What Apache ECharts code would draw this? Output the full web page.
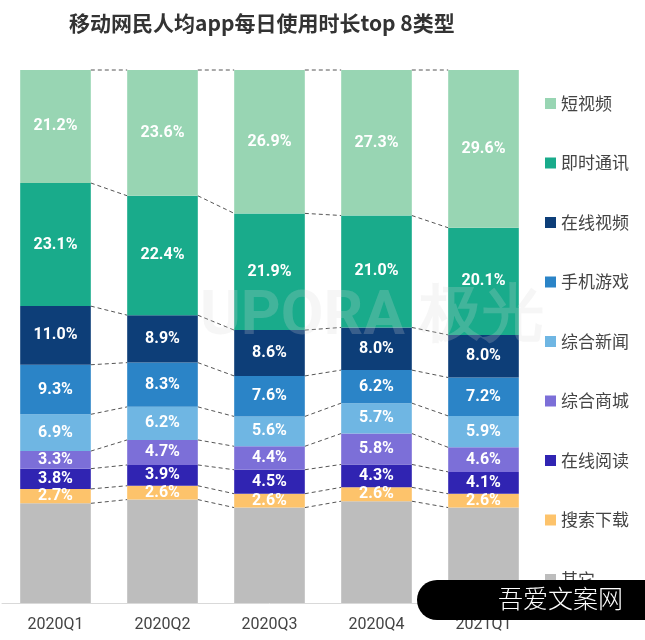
<!DOCTYPE html>
<html><head><meta charset="utf-8">
<script src="https://cdn.jsdelivr.net/npm/echarts@6/dist/echarts.min.js"></script>
<style>html,body{margin:0;padding:0;background:#fff}#c{width:645px;height:640px}</style>
</head><body><div id="c"></div>
<script>
const categories = ['2020Q1','2020Q2','2020Q3','2020Q4','2021Q1'];
const seriesNames = ['其它','搜索下载','在线阅读','综合商城','综合新闻','手机游戏','在线视频','即时通讯','短视频'];
const other    = [18.7, 19.4, 17.9, 19.1, 17.9];
const search   = [2.7, 2.6, 2.6, 2.6, 2.6];
const reading  = [3.8, 3.9, 4.5, 4.3, 4.1];
const mall     = [3.3, 4.7, 4.4, 5.8, 4.6];
const news     = [6.9, 6.2, 5.6, 5.7, 5.9];
const games    = [9.3, 8.3, 7.6, 6.2, 7.2];
const video    = [11.0, 8.9, 8.6, 8.0, 8.0];
const im       = [23.1, 22.4, 21.9, 21.0, 20.1];
const shortVid = [21.2, 23.6, 26.9, 27.3, 29.6];
const legendOrder = ['短视频','即时通讯','在线视频','手机游戏','综合新闻','综合商城','在线阅读','搜索下载','其它'];

const values = [other, search, reading, mall, news, games, video, im, shortVid];
const colors = ['#bdbdbd','#fdc36b','#3024b2','#7c6fd8','#6fb6e3','#2b84c7','#0d3e78','#19ab8b','#98d5b3'];

const BAR_RATIO = 0.66;

const series = values.map((v, i) => ({
  name: seriesNames[i],
  type: 'bar',
  stack: 'all',
  barWidth: '66%',
  data: v,
  itemStyle: { color: colors[i] },
  label: {
    show: i > 0,
    position: 'inside',
    color: '#fff',
    fontFamily: 'Roboto',
    fontWeight: 'bold',
    fontSize: 16,
    formatter: p => p.value.toFixed(1) + '%'
  },
  z: 2
}));

// dashed connectors between bars at segment boundaries
const connData = [];
for (let i = 0; i < categories.length - 1; i++) connData.push([i]);
series.push({
  type: 'custom',
  silent: true,
  z: 1,
  data: connData,
  renderItem: function (params, api) {
    const i = api.value(0);
    const band = api.size([1, 0])[0];
    const half = band * BAR_RATIO / 2;
    const children = [];
    let cumA = 0, cumB = 0;
    for (let k = 0; k < values.length; k++) {
      cumA += values[k][i];
      cumB += values[k][i + 1];
      const a = api.coord([i, cumA]);
      const b = api.coord([i + 1, cumB]);
      children.push({
        type: 'line',
        shape: { x1: a[0] + half, y1: a[1], x2: b[0] - half, y2: b[1] },
        style: { stroke: '#555', lineWidth: 1, lineDash: [4, 3] }
      });
    }
    return { type: 'group', children: children };
  }
});

const chart = echarts.init(document.getElementById('c'));
chart.setOption({
  animation: false,
  backgroundColor: '#fff',
  title: {
    text: '移动网民人均app每日使用时长top 8类型',
    left: 64, top: 8,
    textStyle: { fontFamily: 'Noto Sans CJK SC', fontWeight: 'bold', fontSize: 21, color: '#333' }
  },
  legend: {
    data: legendOrder,
    orient: 'vertical',
    left: 540, top: 90,
    itemWidth: 11, itemHeight: 11, itemGap: 42.5,
    icon: 'rect',
    textStyle: { fontFamily: 'Noto Sans CJK SC', fontSize: 17, color: '#444' }
  },
  grid: { left: 2, right: 108, top: 70, bottom: 37 },
  xAxis: {
    type: 'category',
    data: categories,
    axisLine: { lineStyle: { color: '#d9d9d9' } },
    axisTick: { show: false },
    axisLabel: { fontFamily: 'Roboto', fontSize: 16, color: '#444', margin: 14 }
  },
  yAxis: { type: 'value', min: 0, max: 100, show: false },
  series: series,
  graphic: [
    {
      type: 'text', left: 200, top: 287, z: 10, silent: true,
      style: { text: 'UPORA 极光', fontFamily: 'Roboto', fontWeight: 'bold', fontSize: 62,
               fill: 'rgba(215,215,215,0.22)' }
    },
    {
      type: 'rect', z: 20, silent: true,
      shape: { x: 417, y: 580, width: 240, height: 40, r: [20, 0, 0, 20] },
      style: { fill: '#000' }
    },
    {
      type: 'text', z: 21, silent: true, left: 498, top: 586,
      style: { text: '吾爱文案网', fontFamily: 'Noto Sans CJK SC', fontWeight: 300, fontSize: 25, fill: '#fff' }
    }
  ]
});
</script></body></html>
